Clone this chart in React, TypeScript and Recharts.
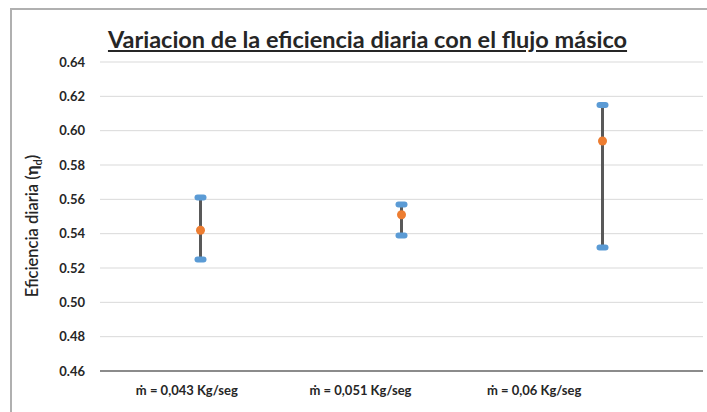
import React from "react";
import { ComposedChart, Bar, Line, XAxis, YAxis, CartesianGrid } from "recharts";

const categories = ["ṁ = 0,043 Kg/seg", "ṁ = 0,051 Kg/seg", "ṁ =  0,06 Kg/seg"];
const lowValues = [0.525, 0.539, 0.532];
const midValues = [0.542, 0.551, 0.594];
const highValues = [0.561, 0.557, 0.615];
const yTicks = [0.46, 0.48, 0.5, 0.52, 0.54, 0.56, 0.58, 0.6, 0.62, 0.64];

const data = categories.map((name, i) => ({
  name,
  low: lowValues[i],
  mid: midValues[i],
  high: highValues[i],
  range: [lowValues[i], highValues[i]],
}));

const FONT = "Lato, 'Open Sans', sans-serif";

const DashDot = (props: any) => {
  const { cx, cy } = props;
  if (cx == null || cy == null) return null;
  return <rect x={cx - 6} y={cy - 3} width={12} height={6} rx={3} fill="#5B9BD5" />;
};

const MidDot = (props: any) => {
  const { cx, cy } = props;
  if (cx == null || cy == null) return null;
  return <circle cx={cx} cy={cy} r={4.5} fill="#ED7D31" />;
};

export default function App() {
  return (
    <div style={{ position: "absolute", left: 0, top: 0, width: 707, height: 412, overflow: "hidden", background: "#fff" }}>
      <div
        style={{
          position: "absolute",
          left: 10,
          top: 8,
          width: 720,
          height: 420,
          borderLeft: "2px solid #b0b0b0",
          borderTop: "2px solid #b0b0b0",
        }}
      />
      <div
        style={{
          position: "absolute",
          left: 0,
          width: 707,
          top: 25,
          textAlign: "center",
          paddingLeft: 28,
          boxSizing: "border-box",
          fontFamily: FONT,
          fontWeight: 700,
          fontSize: 23.5,
          color: "#262626",
          textDecoration: "underline",
          whiteSpace: "nowrap",
        }}
      >
        Variacion de la eficiencia diaria con el flujo másico
      </div>
      <div
        style={{
          position: "absolute",
          left: 33,
          top: 226,
          transform: "translate(-50%, -50%) rotate(-90deg)",
          fontFamily: FONT,
          fontWeight: 600,
          fontSize: 16.5,
          color: "#262626",
          whiteSpace: "nowrap",
        }}
      >
        Eficiencia diaria (<b>η</b><sub style={{ fontSize: 11 }}>d</sub>)
      </div>
      <div style={{ position: "absolute", left: 0, top: 0 }}>
        <ComposedChart width={707} height={412} data={data} margin={{ top: 62, right: 4, bottom: 0, left: 0 }}>
          <CartesianGrid vertical={false} stroke="#d9d9d9" />
          <XAxis dataKey="name" hide height={0} />
          <XAxis
            xAxisId="labels"
            dataKey="name"
            axisLine={{ stroke: "#6b6b6b", strokeWidth: 1.5 }}
            tickLine={false}
            tickSize={0}
            tickMargin={15}
            height={41}
            padding={{ left: 0, right: 82 }}
            tick={{ fontFamily: FONT, fontWeight: 700, fontSize: 13, fill: "#262626" }}
          />
          <YAxis
            domain={[0.46, 0.64]}
            ticks={yTicks}
            width={100}
            axisLine={false}
            tickLine={false}
            tickSize={0}
            tickMargin={15}
            tickFormatter={(v: number) => v.toFixed(2)}
            tick={{ fontFamily: FONT, fontWeight: 700, fontSize: 13, fill: "#262626" }}
          />
          <Bar dataKey="range" barSize={3} fill="#595959" isAnimationActive={false} />
          <Line dataKey="low" stroke="none" dot={<DashDot />} activeDot={false} isAnimationActive={false} />
          <Line dataKey="high" stroke="none" dot={<DashDot />} activeDot={false} isAnimationActive={false} />
          <Line dataKey="mid" stroke="none" dot={<MidDot />} activeDot={false} isAnimationActive={false} />
        </ComposedChart>
      </div>
    </div>
  );
}
